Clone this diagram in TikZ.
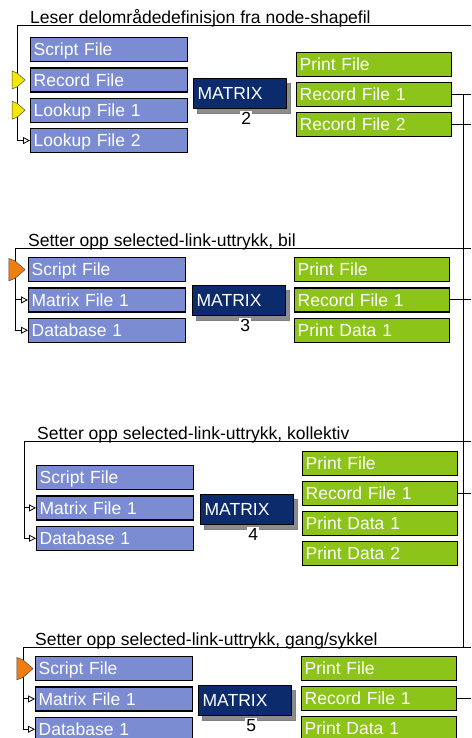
\documentclass[tikz,border=0pt]{standalone}
\usepackage{fontspec}
\setmainfont{Liberation Sans}
\usepackage{tikz}
\usetikzlibrary{positioning, arrows.meta, calc, shadows}
\definecolor{cInFile}   {HTML}{7C8CD2}
\definecolor{cOutFile}  {HTML}{8CC41A}
\definecolor{cMatrix}   {HTML}{0C2B6C}
\definecolor{cShadow}   {HTML}{8C8C8C}
\definecolor{cFlagIn}   {HTML}{F5E800}
\definecolor{cFlagUp}   {HTML}{F07D10}
\newcommand{\appfont}{\fontsize{17.5}{20}\selectfont}

\tikzset{
  filebox/.style={draw=black, line width=1.3pt, text=white, font=\appfont,
    anchor=north west, minimum height=24pt, inner xsep=3pt, inner ysep=0pt,
    text height=12.6pt, text depth=0pt, align=left},
  infile/.style={filebox, fill=cInFile, text width=151pt},
  outfile/.style={filebox, fill=cOutFile, text width=149pt},
  progbox/.style={draw=black, line width=1.3pt, fill=cMatrix, text=white, font=\appfont,
    anchor=north west, minimum height=30pt, text width=85pt, inner xsep=4pt, inner ysep=0pt,
    text height=12.6pt, text depth=0pt, align=left,
    drop shadow={shadow xshift=4pt, shadow yshift=-5pt, fill=cShadow, draw=black!50, opacity=1}},
  prognum/.style={fill=white, font=\appfont, inner xsep=1pt, inner ysep=1.5pt},
  grouptitle/.style={font=\appfont, anchor=base west, inner sep=0pt},
  link/.style={line width=1pt},
  inarrow/.style={link, -{Triangle[open, length=7pt, width=7pt, line width=0.8pt]}},
  pics/inflag/.style={code={
    \filldraw[fill=#1, draw=black!70, line width=0.5pt]
      (-5,-9) -- (0,-7) -- (8,0) -- (0,7) -- (-5,9) -- cycle;}},
}

\begin{document}
\begin{tikzpicture}[x=1pt, y=-1pt]
  \useasboundingbox (0,0) rectangle (471,738);
  \coordinate (redge) at (471,0);
  \coordinate (bus) at (463,0);

  % --- MATRIX 2
  \node[grouptitle] (h2) at (30,24) {Leser delområdedefinisjon fra node-shapefil};
  \coordinate (t2) at (17,26);
  \node[infile] (sc2) at (30,37) {Script File};
  \node[infile, below=5pt of sc2] (rec2) {Record File};
  \node[infile, below=5pt of rec2] (lk2a) {Lookup File 1};
  \node[infile, below=5pt of lk2a] (lk2b) {Lookup File 2};
  \node[progbox] (m2) at (193,78) {MATRIX};
  \node[prognum] at ($(m2.south)+(6,9)$) {2};
  \node[outfile] (pr2) at (296,52) {Print File};
  \node[outfile, below=4.5pt of pr2] (rf2a) {Record File 1};
  \node[outfile, below=4.5pt of rf2a] (rf2b) {Record File 2};

  \draw[link] (t2) -- (t2 -| redge);
  \draw[link] (t2) -- (t2 |- lk2b.west);
  \pic at (t2 |- rec2.west) {inflag=cFlagIn};
  \pic at (t2 |- lk2a.west) {inflag=cFlagIn};
  \draw[inarrow] (t2 |- lk2b.west) -- (lk2b.west);
  \draw[link] (rf2a.east) -- (rf2a.east -| redge);
  \draw[link] (rf2b.east) -- (rf2b.east -| redge);

  % --- MATRIX 3
  \node[grouptitle] (h3) at (28,246) {Setter opp selected-link-uttrykk, bil};
  \coordinate (t3) at (15,248);
  \node[infile] (sc3) at (28,257) {Script File};
  \node[infile, below=5pt of sc3] (mf3) {Matrix File 1};
  \node[infile, below=5pt of mf3] (db3) {Database 1};
  \node[progbox] (m3) at (192,285) {MATRIX};
  \node[prognum] at ($(m3.south)+(6,9)$) {3};
  \node[outfile] (pr3) at (294,257) {Print File};
  \node[outfile, below=5pt of pr3] (rf3) {Record File 1};
  \node[outfile, below=5pt of rf3] (pd3) {Print Data 1};

  \draw[link] (t3) -- (t3 -| redge);
  \draw[link] (t3) -- (t3 |- db3.west);
  \pic[scale=1.25] at (t3 |- sc3.west) {inflag=cFlagUp};
  \draw[inarrow] (t3 |- mf3.west) -- (mf3.west);
  \draw[inarrow] (t3 |- db3.west) -- (db3.west);
  \draw[link] (rf3.east) -- (rf3.east -| redge);

  % --- MATRIX 4
  \node[grouptitle] (h4) at (37,439) {Setter opp selected-link-uttrykk, kollektiv};
  \coordinate (t4) at (24,441);
  \node[infile] (sc4) at (36,465) {Script File};
  \node[infile, below=5pt of sc4] (mf4) {Matrix File 1};
  \node[infile, below=5pt of mf4] (db4) {Database 1};
  \node[progbox] (m4) at (200,494) {MATRIX};
  \node[prognum] at ($(m4.south)+(6,9)$) {4};
  \node[outfile] (pr4) at (302,451) {Print File};
  \node[outfile, below=4.7pt of pr4] (rf4) {Record File 1};
  \node[outfile, below=4.7pt of rf4] (pd4a) {Print Data 1};
  \node[outfile, below=4.7pt of pd4a] (pd4b) {Print Data 2};

  \draw[link] (t4) -- (t4 -| redge);
  \draw[link] (t4) -- (t4 |- db4.west);
  \draw[inarrow] (t4 |- mf4.west) -- (mf4.west);
  \draw[inarrow] (t4 |- db4.west) -- (db4.west);
  \draw[link] (rf4.east) -- (rf4.east -| redge);

  % --- MATRIX 5
  \node[grouptitle] (h5) at (35,645) {Setter opp selected-link-uttrykk, gang/sykkel};
  \coordinate (t5) at (23,647);
  \node[infile] (sc5) at (35,656) {Script File};
  \node[infile, below=5pt of sc5] (mf5) {Matrix File 1};
  \node[infile, below=5pt of mf5] (db5) {Database 1};
  \node[progbox] (m5) at (198,685) {MATRIX};
  \node[prognum] at ($(m5.south)+(6,9)$) {5};
  \node[outfile] (pr5) at (301,656) {Print File};
  \node[outfile, below=4.7pt of pr5] (rf5) {Record File 1};
  \node[outfile, below=4.7pt of rf5] (pd5) {Print Data 1};

  \draw[link] (t5) -- (t5 -| redge);
  \draw[link] (t5) -- (t5 |- db5.west);
  \pic[scale=1.25] at (t5 |- sc5.west) {inflag=cFlagUp};
  \draw[inarrow] (t5 |- mf5.west) -- (mf5.west);
  \draw[inarrow] (t5 |- db5.west) -- (db5.west);
  \draw[link] (rf5.east) -- (rf5.east -| redge);

  % shared bus on the right
  \draw[link] (bus |- rf2a.east) -- (bus |- t5);
\end{tikzpicture}
\end{document}
